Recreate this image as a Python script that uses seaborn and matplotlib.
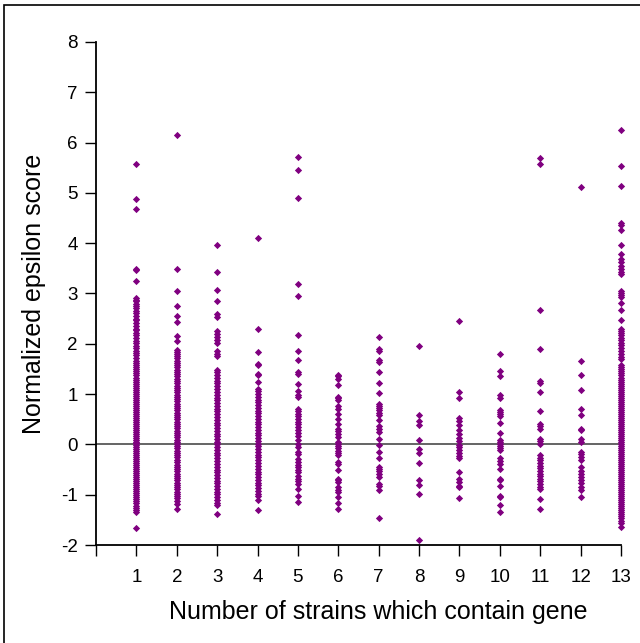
import matplotlib
matplotlib.use("Agg")
import matplotlib.pyplot as plt
from matplotlib.patches import Rectangle
import numpy as np
import pandas as pd
import seaborn as sns

# Normalized epsilon scores, grouped by the number of strains that contain the gene
strains_1 = [5.57, 4.88, 4.67, 3.49, 3.47, 3.24,
             2.92, 2.88, 2.85, 2.80, 2.76, 2.71, 2.66, 2.62, 2.55, 2.50, 2.47, 2.41,
             2.36, 2.30, 2.27, 2.21, 2.17, 2.12, 2.05, 2.01, 1.96, 1.92, 1.86, 1.81,
             1.77, 1.72, 1.66, 1.62, 1.58, 1.53, 1.49, 1.45, 1.41, 1.37, 1.33, 1.29,
             1.25, 1.21, 1.17, 1.13, 1.09, 1.05, 1.01, 0.97, 0.93, 0.89, 0.85, 0.81,
             0.77, 0.73, 0.69, 0.65, 0.61, 0.57, 0.53, 0.49, 0.45, 0.41, 0.37, 0.33,
             0.29, 0.25, 0.21, 0.17, 0.13, 0.09, 0.05, 0.02, -0.02, -0.05, -0.09,
             -0.13, -0.17, -0.21, -0.25, -0.29, -0.33, -0.37, -0.41, -0.45, -0.49,
             -0.53, -0.57, -0.61, -0.65, -0.69, -0.73, -0.77, -0.81, -0.85, -0.89,
             -0.93, -0.97, -1.01, -1.05, -1.09, -1.13, -1.17, -1.22, -1.27, -1.31,
             -1.35, -1.66]
strains_2 = [6.16, 3.49, 3.04, 2.75, 2.55, 2.43, 2.15, 2.05,
             1.88, 1.84, 1.80, 1.75, 1.71, 1.66, 1.62, 1.57, 1.53, 1.48, 1.44, 1.39,
             1.35, 1.31, 1.26, 1.22, 1.17, 1.13, 1.08, 1.04, 0.99, 0.95, 0.90, 0.86,
             0.81, 0.77, 0.72, 0.68, 0.63, 0.59, 0.54, 0.50, 0.45, 0.41, 0.36, 0.32,
             0.27, 0.23, 0.18, 0.14, 0.09, 0.05, 0.01, -0.04, -0.08, -0.13, -0.17,
             -0.22, -0.26, -0.31, -0.35, -0.40, -0.44, -0.49, -0.53, -0.58, -0.62,
             -0.67, -0.71, -0.76, -0.80, -0.85, -0.89, -0.94, -0.98, -1.03, -1.07,
             -1.12, -1.18, -1.29]
strains_3 = [3.96, 3.43, 3.06, 2.86, 2.60, 2.53, 2.25, 2.20, 2.14, 2.08, 2.01,
             1.85, 1.80, 1.76,
             1.47, 1.43, 1.38, 1.33, 1.27, 1.22, 1.16, 1.10, 1.05, 0.99, 0.93, 0.88,
             0.82, 0.77, 0.71, 0.66, 0.60, 0.54, 0.49, 0.43, 0.38, 0.32, 0.27, 0.21,
             0.16, 0.10, 0.05, 0.00, -0.06, -0.11, -0.17, -0.22, -0.28, -0.33, -0.39,
             -0.44, -0.50, -0.55, -0.61, -0.66, -0.72, -0.77, -0.83, -0.88, -0.94,
             -0.99, -1.05, -1.10, -1.16, -1.21, -1.39]
strains_4 = [4.10, 2.30, 1.84, 1.60, 1.58, 1.39, 1.37, 1.25,
             1.11, 1.06, 1.00, 0.95, 0.89, 0.84, 0.78, 0.73, 0.67, 0.62, 0.56, 0.51,
             0.45, 0.40, 0.34, 0.29, 0.23, 0.18, 0.12, 0.07, 0.01, -0.04, -0.10,
             -0.15, -0.21, -0.26, -0.32, -0.37, -0.43, -0.48, -0.54, -0.59, -0.65,
             -0.70, -0.76, -0.81, -0.87, -0.92, -0.98, -1.03, -1.11, -1.30]
strains_5 = [5.72, 5.45, 4.90, 3.19, 2.95, 2.18, 1.85, 1.67, 1.44, 1.40, 1.21,
             1.07, 0.99, 0.95, 0.71, 0.66, 0.61, 0.56, 0.51, 0.44, 0.40, 0.34, 0.29,
             0.22, 0.16, 0.08, 0.01, -0.05, -0.15, -0.20, -0.30, -0.35, -0.40, -0.45,
             -0.50, -0.55, -0.62, -0.68, -0.73, -0.78, -0.88, -1.03, -1.15]
strains_6 = [1.37, 1.35, 1.31, 1.19, 0.95, 0.92, 0.89, 0.77, 0.71, 0.61, 0.51,
             0.41, 0.31, 0.26, 0.21, 0.15, 0.05, 0.01, -0.03, -0.08, -0.13, -0.17,
             -0.22, -0.35, -0.38, -0.50, -0.68, -0.71, -0.74, -0.85, -0.90, -0.95,
             -1.05, -1.17, -1.29]
strains_7 = [2.13, 1.89, 1.86, 1.67, 1.64, 1.44, 1.22, 1.03, 0.81, 0.77, 0.73,
             0.69, 0.63, 0.58, 0.49, 0.36, 0.31, 0.24, 0.10, -0.02, -0.15, -0.28,
             -0.45, -0.49, -0.53, -0.58, -0.65, -0.78, -0.83, -0.91, -1.46]
strains_8 = [1.96, 0.58, 0.46, 0.38, 0.09, -0.09, -0.17, -0.36, -0.70, -0.80,
             -0.98, -1.91]
strains_9 = [2.45, 1.04, 0.93, 0.53, 0.46, 0.38, 0.29, 0.20, 0.13, 0.07, -0.01,
             -0.05, -0.12, -0.17, -0.24, -0.28, -0.55, -0.68, -0.75, -0.82, -0.85,
             -1.06]
strains_10 = [1.80, 1.46, 1.35, 0.99, 0.93, 0.69, 0.64, 0.60, 0.56, 0.42, 0.23,
              0.08, 0.04, 0.00, -0.04, -0.08, -0.12, -0.28, -0.33, -0.38, -0.48,
              -0.68, -0.70, -0.83, -1.03, -1.05, -1.21, -1.35]
strains_11 = [5.69, 5.58, 2.68, 1.89, 1.27, 1.23, 1.05, 0.66, 0.40, 0.36, 0.31,
              0.11, 0.06, 0.01, -0.22, -0.27, -0.32, -0.37, -0.42, -0.47, -0.52,
              -0.58, -0.63, -0.68, -0.73, -0.78, -0.84, -0.88, -1.09, -1.29]
strains_12 = [5.12, 1.65, 1.37, 1.08, 0.70, 0.59, 0.31, 0.28, 0.11, 0.05, -0.15,
              -0.20, -0.26, -0.32, -0.45, -0.52, -0.58, -0.64, -0.70, -0.77, -0.84,
              -0.91, -1.05]
strains_13 = [6.26, 5.54, 5.14, 4.40, 4.36, 4.27, 3.96, 3.78, 3.68, 3.62, 3.55,
              3.49, 3.43, 3.39, 3.05, 3.01, 2.97, 2.93, 2.82, 2.68, 2.47, 2.30, 2.26,
              2.22, 2.17, 2.12, 2.07, 2.02, 1.97, 1.91, 1.85, 1.79, 1.74, 1.70,
              1.57, 1.53, 1.49, 1.45, 1.41, 1.37, 1.33, 1.29, 1.25, 1.21, 1.17, 1.13,
              1.09, 1.05, 1.01, 0.97, 0.93, 0.89, 0.85, 0.81, 0.77, 0.73, 0.69, 0.65,
              0.61, 0.57, 0.53, 0.49, 0.45, 0.41, 0.37, 0.33, 0.29, 0.25, 0.21, 0.17,
              0.13, 0.09, 0.05, 0.01, -0.03, -0.07, -0.11, -0.15, -0.19, -0.23,
              -0.27, -0.31, -0.35, -0.39, -0.43, -0.47, -0.51, -0.55, -0.59, -0.63,
              -0.67, -0.71, -0.75, -0.79, -0.83, -0.87, -0.91, -0.95, -0.99, -1.03,
              -1.07, -1.11, -1.15, -1.19, -1.23, -1.27, -1.31, -1.35, -1.39, -1.43,
              -1.47, -1.52, -1.57, -1.64]

groups = [strains_1, strains_2, strains_3, strains_4, strains_5, strains_6,
          strains_7, strains_8, strains_9, strains_10, strains_11, strains_12,
          strains_13]
strain_counts = list(range(1, 14))
x_tick_labels = [""] + [str(n) for n in strain_counts]
y_ticks = list(range(-2, 9))

df = pd.DataFrame({
    "strains": np.concatenate([[n] * len(g) for n, g in zip(strain_counts, groups)]),
    "epsilon": np.concatenate(groups),
})

sns.set_theme(style="white")
plt.rcParams["font.family"] = ["Liberation Sans", "DejaVu Sans"]

fig = plt.figure(figsize=(6.4, 6.43), dpi=100)
ax = fig.add_axes([0.15, 0.1524, 0.8203, 0.7823])

ax.axhline(0, color="#3a3a3a", lw=1.1, zorder=1)
sns.stripplot(data=df, x="strains", y="epsilon", native_scale=True, jitter=False,
              color="#800080", marker="D", size=3.7, linewidth=0, ax=ax, zorder=3)
for coll in ax.collections:
    coll.set_clip_on(False)

ax.set_xlim(0, 13)
ax.set_ylim(-2, 8)
ax.set_xticks(range(0, 14))
ax.set_xticklabels(x_tick_labels)
ax.set_yticks(y_ticks)
ax.set_yticklabels([str(v) for v in y_ticks])

for side in ("top", "right"):
    ax.spines[side].set_visible(False)
for side in ("left", "bottom"):
    ax.spines[side].set_color("black")
    ax.spines[side].set_linewidth(1.3)

ax.tick_params(axis="both", which="major", direction="out", length=8, width=1,
               color="black", labelsize=13.5, labelcolor="black",
               left=True, bottom=True)
ax.tick_params(axis="x", pad=9)
ax.tick_params(axis="y", pad=5)

ax.set_xlabel("Number of strains which contain gene", fontsize=18, color="black",
              va="center")
ax.set_ylabel("Normalized epsilon score", fontsize=18, labelpad=11, color="black")
# the x title sits centred over the labelled ticks 1..13
ax.xaxis.set_label_coords(7 / 13, -0.1332)

# thin frame round the figure
fig.add_artist(Rectangle((4 / 640, -0.2), 1.5, 1.2 - 5 / 643, transform=fig.transFigure,
                         fill=False, edgecolor="black", lw=1.2, clip_on=False))

fig.savefig("out.png", dpi=100)
